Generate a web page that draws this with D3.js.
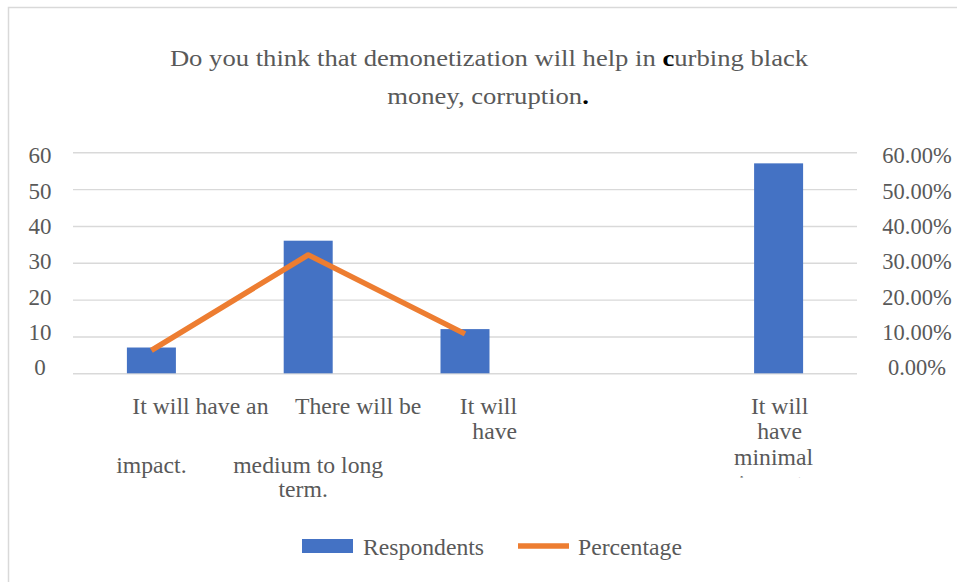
<!DOCTYPE html>
<html>
<head>
<meta charset="utf-8">
<script src="https://cdn.jsdelivr.net/npm/d3@7"></script>
<style>
  body { margin: 0; background: #fff; }
  svg { display: block; }
  text { font-family: "Liberation Serif", "Times New Roman", serif; fill: #595959; }
</style>
</head>
<body>
<svg id="chart" width="957" height="582"></svg>
<script>
// ---- data ----
const categories = [
  "It will have an impact.",
  "There will be medium to long term.",
  "It will have",
  "",
  "It will have minimal impact."
];
// category label text as it wraps under each column
const categoryLines = [
  ["It will have an", "impact."],
  ["There will be", "medium to long", "term."],
  ["It will", "have"],
  [],
  ["It will", "have", "minimal", "impact."]
];
const respondents = [7, 36, 12, null, 57];
const percentage = [0.0625, 0.3214, 0.1071, null, 0.5089];
const leftTicks = [0, 10, 20, 30, 40, 50, 60];
const rightTicks = [0, 0.1, 0.2, 0.3, 0.4, 0.5, 0.6];
const titleLine1 = ["Do you think that demonetization  will help in ", "c", "urbing black"];
const titleLine2 = ["money, corruption", "."];
const seriesNames = ["Respondents", "Percentage"];

// ---- layout ----
const W = 957, H = 582;
const plot = { left: 73, right: 857, top: 152.3, bottom: 373.3 };
const barColor = "#4472C4", lineColor = "#ED7D31", gridColor = "#d9d9d9";
const serif = '"Liberation Serif", "Times New Roman", serif';

const svg = d3.select("#chart");

// outer chart border (extends past the right and bottom edges)
svg.append("rect")
  .attr("x", 8.5).attr("y", 7.5).attr("width", 1000).attr("height", 700)
  .attr("fill", "none").attr("stroke", gridColor).attr("stroke-width", 1.5);

const x = d3.scaleBand()
  .domain(d3.range(categories.length))
  .range([plot.left, plot.right])
  .padding(0);
const barW = x.bandwidth() * 0.3125;

const y = d3.scaleLinear().domain([0, 60]).range([plot.bottom, plot.top]);
const y2 = d3.scaleLinear().domain([0, 0.6]).range([plot.bottom, plot.top]);
// tick text sits on a slightly tighter run than the gridlines
const yText = d3.scaleLinear().domain([0, 60]).range([367.5, 155.5]);
const y2Text = d3.scaleLinear().domain([0, 0.6]).range([367.5, 155.5]);

// gridlines
const grid = svg.append("g")
  .attr("transform", `translate(${plot.left},0)`)
  .call(d3.axisLeft(y).tickValues(leftTicks).tickSize(-(plot.right - plot.left)).tickFormat(""));
grid.select(".domain").remove();
grid.selectAll(".tick line").attr("stroke", gridColor).attr("stroke-width", 1.4);

// left axis labels
const leftAxis = svg.append("g")
  .attr("transform", "translate(40,0)")
  .call(d3.axisLeft(yText).tickValues(leftTicks).tickSize(0).tickPadding(0).tickFormat(d3.format("d")));
leftAxis.select(".domain").remove();
leftAxis.selectAll("text")
  .attr("text-anchor", "middle").attr("x", 0)
  .style("font-size", "23px").style("fill", "#595959").style("font-family", serif);

// right axis labels
const rightAxis = svg.append("g")
  .attr("transform", "translate(917,0)")
  .call(d3.axisRight(y2Text).tickValues(rightTicks).tickSize(0).tickPadding(0).tickFormat(d3.format(".2%")));
rightAxis.select(".domain").remove();
rightAxis.selectAll("text")
  .attr("text-anchor", "middle").attr("x", 0)
  .style("font-size", "22.5px").style("fill", "#595959").style("font-family", serif);

// bars
svg.append("g").selectAll("rect")
  .data(respondents.map((v, i) => ({ v, i })).filter(d => d.v != null))
  .join("rect")
  .attr("x", d => x(d.i) + x.bandwidth() / 2 - barW / 2)
  .attr("width", barW)
  .attr("y", d => y(d.v))
  .attr("height", d => y(0) - y(d.v))
  .attr("fill", barColor);

// percentage line (breaks where a value is missing)
const line = d3.line()
  .defined(d => d.v != null)
  .x(d => x(d.i) + x.bandwidth() / 2)
  .y(d => y2(d.v));
svg.append("path")
  .datum(percentage.map((v, i) => ({ v, i })))
  .attr("d", line)
  .attr("fill", "none")
  .attr("stroke", lineColor)
  .attr("stroke-width", 5.5)
  .attr("stroke-linejoin", "round")
  .attr("stroke-linecap", "butt");

// category labels
const labelPlacement = [
  [{ dx: 49, y: 414 }, { dx: 0, y: 473 }],
  [{ dx: 50, y: 414 }, { dx: 0, y: 473 }, { dx: -5, y: 497 }],
  [{ dx: 52, y: 414, anchor: "end" }, { dx: 52, y: 439, anchor: "end" }],
  [],
  [{ dx: 1, y: 414 }, { dx: 1, y: 439 }, { dx: -5, y: 465 }, { dx: -5, y: 491 }]
];
// the last column's label box is shorter, so its final line is cut off
svg.append("clipPath").attr("id", "labelClip")
  .append("rect").attr("x", 0).attr("y", 380).attr("width", W).attr("height", 97.5);
const labels = svg.append("g");
categoryLines.forEach((lines, i) => {
  const g = labels.append("g");
  if (i === categoryLines.length - 1) g.attr("clip-path", "url(#labelClip)");
  lines.forEach((t, j) => {
    const p = labelPlacement[i][j];
    g.append("text")
      .attr("x", x(i) + x.bandwidth() / 2 + p.dx)
      .attr("y", p.y)
      .attr("text-anchor", p.anchor || "middle")
      .style("font-size", "23.7px")
      .text(t);
  });
});

// title (set slightly wide)
function titleLine(parts, cx, baseline) {
  const t = svg.append("text")
    .attr("transform", `translate(${cx},${baseline}) scale(1.11,1)`)
    .attr("text-anchor", "middle").style("font-size", "24px");
  parts.forEach((s, k) => {
    const ts = t.append("tspan").text(s);
    if (k === 1) ts.style("fill", "#000").style("font-weight", "bold");
  });
}
titleLine(titleLine1, 489, 66);
titleLine(titleLine2, 488, 104);

// legend
const legend = svg.append("g");
legend.append("rect").attr("x", 302).attr("y", 539).attr("width", 51).attr("height", 14).attr("fill", barColor);
legend.append("text").attr("x", 363).attr("y", 555).style("font-size", "23.7px").text(seriesNames[0]);
legend.append("line").attr("x1", 518).attr("x2", 569).attr("y1", 546).attr("y2", 546)
  .attr("stroke", lineColor).attr("stroke-width", 5.5);
legend.append("text").attr("x", 578).attr("y", 555).style("font-size", "23.7px").text(seriesNames[1]);
</script>
</body>
</html>
